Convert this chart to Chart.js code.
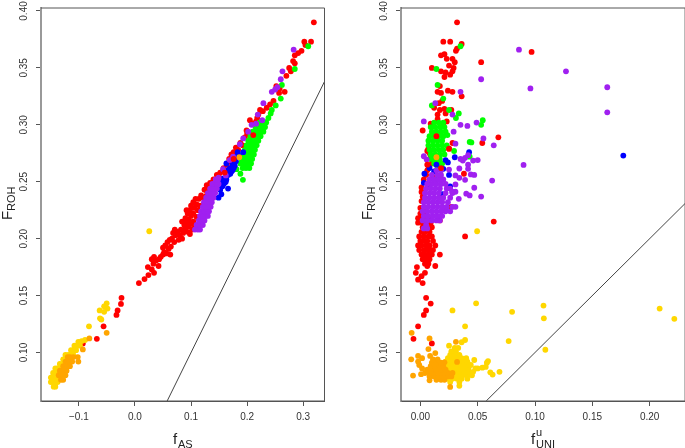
<!DOCTYPE html>
<html>
<head>
<meta charset="utf-8">
<style>
  html, body { margin: 0; padding: 0; background: #fff; overflow: hidden; }
  canvas { position: absolute; top: 0; }
  #left-plot { left: 0; }
  #right-plot { left: 342px; }
</style>
<script src="https://cdn.jsdelivr.net/npm/chart.js@4"></script>
</head>
<body>
<canvas id="left-plot" width="342" height="448"></canvas>
<canvas id="right-plot" width="346" height="448"></canvas>
<script>
// Tick labels
const frohTicks = [0.10, 0.15, 0.20, 0.25, 0.30, 0.35, 0.40];
const asTicks = [-0.1, 0.0, 0.1, 0.2, 0.3];
const uniTicks = [0.00, 0.05, 0.10, 0.15, 0.20];

// Axis ends and the y = x line
const frohRange = [0.0574, 0.4026];
const asRange = [-0.1676, 0.338];
const uniRange = [-0.0169, 0.2309];
const diagonalAS = [[0.0574, 0.0574], [0.338, 0.338]];
const diagonalUNI = [[0.0574, 0.0574], [0.2309, 0.2309]];

// Left panel, [fAS, FROH]
const redAS = [
  [.319,.390],[.314,.373],[.302,.373],[.304,.370],[.297,.365],[.291,.363],[.285,.361],[.282,.356],[.285,.354],[.275,.350],
  [.270,.343],[.278,.347],[.267,.329],[.257,.328],[.252,.334],[.258,.332],[.247,.321],[.241,.318],[.235,.315],[.228,.312],
  [.223,.313],[.220,.309],[.218,.306],[.216,.303],[.212,.301],[.205,.304],[.204,.292],[.200,.292],[.199,.295],[.196,.289],
  [.192,.282],[.188,.284],[.184,.278],[.180,.280],[.176,.276],[.172,.274],[.170,.268],[.168,.270],[.164,.265],[.158,.262],
  [.152,.258],[.150,.254],[.146,.256],[.144,.250],[.140,.252],[.134,.249],[.130,.243],[.128,.247],[.128,.242],[.124,.243],
  [.118,.238],[.114,.235],[.110,.230],[.108,.235],[.104,.232],[.106,.227],[.100,.229],[.098,.225],[.104,.222],[.092,.225],
  [.094,.222],[.100,.220],[.096,.217],[.090,.218],[.084,.215],[.104,.215],[.100,.213],[.096,.211],[.092,.214],[.088,.212],
  [.098,.204],[.094,.206],[.090,.209],[.086,.205],[.082,.208],[.078,.199],[.084,.200],[.080,.203],[.076,.206],[.072,.203],
  [.068,.205],[.071,.208],[.070,.197],[.066,.200],[.062,.199],[.058,.197],[.054,.194],[.050,.192],[.052,.188],[.056,.187],
  [.060,.191],[.064,.193],[.063,.186],[.050,.186],[.046,.184],[.043,.182],[.038,.181],[.034,.184],[.030,.182],[.033,.178],
  [.042,.176],[.034,.170],[.030,.173],[.024,.168],[.023,.175],[.017,.1645],[.007,.161],
  [.102,.208],[.107,.211],[.110,.219],[.112,.225],[.116,.229],[.122,.236],[.128,.238],[.134,.243],[.138,.246],
  [-.024,.148],[-.025,.1427],[-.031,.137],[-.033,.133],[-.056,.123],[-.068,.112],[-.093,.108]
];
const redFrontAS = [[.211,.291],[.176,.270],[.160,.258]];
const purpleAS = [
  [.283,.366],[.263,.347],[.260,.340],[.254,.333],[.250,.331],[.244,.329],[.229,.319],[.219,.309],[.227,.304],[.216,.301],
  [.208,.300],[.202,.294],[.193,.288],[.187,.283],[.175,.272],[.169,.269],[.157,.261],[.162,.2555],[.149,.2535],
  [.107,.208],[.116,.208],[.112,.208],[.110,.212],[.116,.212],[.121,.212],[.114,.216],[.119,.216],[.124,.216],
  [.116,.220],[.121,.220],[.126,.220],[.130,.220],[.118,.224],[.123,.224],[.128,.224],[.132,.224],
  [.121,.228],[.126,.228],[.131,.228],[.135,.228],[.123,.232],[.128,.232],[.133,.232],[.137,.232],
  [.127,.236],[.132,.236],[.136,.236],[.140,.236],[.130,.240],[.135,.240],[.139,.240],[.143,.240],
  [.134,.244],[.138,.244],[.142,.244],[.146,.244],[.138,.248],[.142,.248],[.146,.248],[.149,.248],[.144,.252],[.148,.252]
];
const blueAS = [
  [.149,.236],[.154,.239],[.166,.244],[.152,.243],[.156,.246],[.160,.249],[.154,.250],[.158,.253],[.163,.252],[.166,.256],
  [.170,.257],[.172,.259],[.168,.261],[.176,.262],[.178,.264],[.174,.265],[.163,.266],[.180,.268],[.185,.273],[.193,.276],[.183,.276],
  [.158,.248],[.162,.250],[.170,.262],[.174,.260],[.165,.260],[.180,.272]
];
const greenAS = [
  [.309,.369],[.285,.349],[.262,.335],[.260,.323],[.251,.317],[.244,.313],[.242,.310],[.238,.306],[.233,.3024],
  [.1925,.2517],[.188,.257],[.181,.261],
  [.192,.262],[.198,.262],[.204,.262],[.188,.266],[.193,.266],[.198,.266],[.203,.266],[.207,.266],
  [.190,.270],[.195,.270],[.200,.270],[.205,.270],[.209,.270],[.193,.274],[.198,.274],[.203,.274],[.208,.274],[.212,.274],
  [.196,.278],[.201,.278],[.206,.278],[.211,.278],[.214,.278],[.199,.282],[.204,.282],[.209,.282],[.214,.282],[.217,.282],
  [.202,.286],[.207,.286],[.212,.286],[.217,.286],[.220,.286],[.206,.290],[.211,.290],[.216,.290],[.221,.290],[.224,.290],
  [.210,.294],[.215,.294],[.220,.294],[.225,.294],[.229,.294],[.215,.298],[.220,.298],[.225,.298],[.230,.298],[.232,.298],
  [.222,.302],[.227,.302],[.232,.302],[.234,.302]
];
const goldAS = [
  [.0255,.2065],[-.0505,.1432],[-.055,.1406],[-.049,.1386],[-.063,.137],[-.055,.1357],[-.0624,.130],[-.06,.129],[-.082,.123],
  [-.089,.111],[-.095,.110],[-.101,.1094],[-.105,.106],[-.108,.106],[-.103,.106],[-.098,.106],
  [-.145,.070],[-.142,.070],[-.150,.074],[-.146,.074],[-.142,.074],[-.138,.074],
  [-.150,.078],[-.146,.078],[-.142,.078],[-.137,.078],[-.133,.078],[-.146,.082],[-.142,.082],[-.137,.082],[-.132,.082],[-.128,.082],
  [-.142,.086],[-.138,.086],[-.133,.086],[-.128,.086],[-.124,.086],[-.134,.090],[-.129,.090],[-.125,.090],[-.120,.090],
  [-.128,.094],[-.124,.094],[-.119,.094],[-.114,.094],[-.124,.098],[-.119,.098],[-.114,.098],[-.110,.098],
  [-.114,.102],[-.109,.102],[-.105,.102]
];
const orangeAS = [
  [-.0814,.1124],[-.0505,.1173],[-.093,.1027],[.186,.2715],
  [-.132,.076],[-.128,.076],[-.136,.080],[-.132,.080],[-.128,.080],[-.124,.080],
  [-.134,.084],[-.130,.084],[-.126,.084],[-.122,.084],[-.128,.088],[-.124,.088],[-.120,.088],[-.116,.088],
  [-.124,.092],[-.120,.092],[-.116,.092],[-.112,.092],[-.101,.092],[-.120,.096],[-.116,.096],[-.110,.096],[-.102,.096]
];

// Right panel, [fUNI, FROH]
const redUNI = [
  [.032,.390],[.020,.373],[.026,.373],[.036,.371],[.032,.367],[.031,.365],[.018,.361],[.021,.362],[.023,.358],[.028,.358],
  [.030,.355],[.025,.352],[.029,.350],[.010,.350],[.018,.347],[.022,.346],[.028,.347],[.021,.342],[.026,.344],[.017,.334],
  [.015,.329],[.018,.328],[.024,.330],[.028,.329],[.036,.325],[.019,.321],[.016,.319],[.012,.315],[.017,.313],[.021,.314],
  [.022,.310],[.027,.313],[.015,.309],[.015,.305],[.023,.303],[.020,.301],[.009,.301],[.002,.295],[.068,.289],[.054,.284],
  [.028,.284],[.025,.279],[.053,.355],[.097,.364],[.038,.257],[.064,.215],[.017,.216],[.027,.228],[.001,.245],[.000,.227],
  [-.002,.218],[.039,.202],[.017,.186],[.013,.176],[.013,.194],[.006,.176],[.006,.180],[-.003,.175],[-.004,.170],[-.002,.164],
  [.002,.161],[.004,.170],[.001,.167],[.005,.148],[.009,.143],[.005,.137],[.003,.133],[-.002,.123],[-.006,.112],[.010,.108],
  [.004,.178],[.007,.178],[.002,.182],[.005,.182],[.008,.182],[.001,.186],[.004,.186],[.007,.186],[.010,.186],
  [-.001,.190],[.003,.190],[.006,.190],[.009,.190],[.011,.190],[-.002,.194],[.001,.194],[.005,.194],[.008,.194],
  [.000,.198],[.003,.198],[.006,.198],[.011,.198],[-.001,.202],[.003,.202],[.007,.202],[.010,.202],[.001,.206],[.004,.206],[.008,.206],
  [.002,.210],[.006,.210],[.010,.210],[-.002,.214],[.002,.214],[.006,.214],[.009,.214],[.001,.218],[.005,.218],[.008,.218],
  [.000,.222],[.004,.222],[.003,.227],[.001,.233],[.002,.237],[.001,.241],[.003,.252],
  [.006,.277],[.008,.275],[.009,.272],[.007,.279],[.012,.268],[.007,.264],[.006,.260],[.005,.256],[.011,.254],[.018,.252],[.016,.262],[.010,.266]
];
const redFrontUNI = [[.014,.290],[.006,.265],[.018,.262],[.025,.279]];
const purpleUNI = [
  [.086,.366],[.053,.340],[.096,.332],[.127,.347],[.163,.333],[.163,.311],[.035,.329],[.013,.319],[.028,.309],[.003,.303],
  [.049,.302],[.035,.300],[.041,.299],[.029,.294],[.055,.288],[.064,.282],[.0306,.2834],[.003,.2724],[.0055,.2695],
  [.035,.270],[.037,.2686],[.039,.271],[.0416,.2733],[.046,.2686],[.050,.269],[.090,.2648],[.0416,.265],[.0416,.2613],
  [.034,.2616],[.025,.2607],[.0306,.2555],[.034,.2534],[.044,.2564],[.047,.256],[.039,.2517],[.0626,.251],[.0306,.2476],
  [.047,.2447],[.0306,.2412],[.0277,.2412],[.040,.2395],[.043,.238],[.053,.237],[.0335,.235],[.0306,.228],[.028,.228],
  [.022,.227],[.026,.224],[.022,.224],
  [.003,.209],[.006,.209],[.005,.212],[.002,.216],[.006,.216],[.010,.216],[.014,.216],[.017,.216],
  [.003,.220],[.007,.220],[.011,.220],[.015,.220],[.019,.220],[.002,.224],[.006,.224],[.010,.224],[.014,.224],[.018,.224],
  [.003,.228],[.007,.228],[.011,.228],[.015,.228],[.019,.228],[.023,.228],[.003,.232],[.007,.232],[.011,.232],[.015,.232],[.019,.232],[.024,.232],
  [.004,.236],[.008,.236],[.012,.236],[.016,.236],[.020,.236],[.026,.236],[.004,.240],[.008,.240],[.012,.240],[.016,.240],[.022,.240],[.028,.240],
  [.005,.244],[.009,.244],[.013,.244],[.017,.244],[.023,.244],[.026,.244],[.006,.248],[.010,.248],[.014,.248],[.018,.248],[.022,.248],
  [.008,.252],[.012,.252],[.016,.252],[.020,.252],[.010,.256],[.015,.256],[.018,.256],[.014,.260],[.018,.260]
];
const blueUNI = [
  [.177,.273],[.0425,.276],[.030,.2715],[.022,.269],[.024,.267],[.014,.265],[.020,.2613],[.008,.262],[.0035,.257],
  [.012,.259],[.025,.256],[.026,.246],[.003,.249],[.007,.248],[.019,.239]
];
const greenUNI = [
  [.035,.369],[.014,.349],[.015,.335],[.020,.323],[.010,.317],[.025,.313],[.0335,.310],[.031,.306],[.0544,.304],[.053,.300],
  [.0236,.291],[.043,.285],[.0445,.2845],[.0294,.277],[.043,.272],[.0146,.252],
  [.012,.302],[.016,.302],[.020,.302],[.009,.298],[.013,.298],[.017,.298],[.021,.298],[.010,.294],[.014,.294],[.018,.294],[.022,.294],
  [.008,.290],[.012,.290],[.016,.290],[.020,.290],[.007,.286],[.011,.286],[.015,.286],[.019,.286],
  [.007,.282],[.011,.282],[.015,.282],[.019,.282],[.023,.282],[.008,.278],[.012,.278],[.016,.278],[.020,.278],
  [.009,.274],[.013,.274],[.017,.274],[.021,.274],[.009,.270],[.013,.270],[.017,.270],[.012,.266],[.016,.266],[.019,.266],[.015,.262]
];
const goldUNI = [
  [.0495,.2065],[.0486,.1432],[.028,.137],[.080,.1357],[.1074,.1412],[.1077,.130],[.2087,.1386],[.2215,.1296],[.039,.123],
  [.077,.110],[.109,.1024],[.039,.111],[.025,.106],[.036,.109],[.069,.083],[.063,.0806],[.061,.0826],[.059,.0925],[.058,.091],
  [.057,.0873],[.054,.0867],[.047,.0934],[.034,.0707],
  [.026,.074],[.034,.074],[.020,.077],[.024,.077],[.028,.077],[.032,.077],[.036,.077],[.041,.077],
  [.017,.080],[.021,.080],[.025,.080],[.029,.080],[.033,.080],[.037,.080],[.041,.080],[.045,.080],
  [.018,.083],[.022,.083],[.026,.083],[.030,.083],[.034,.083],[.038,.083],[.042,.083],[.046,.083],
  [.018,.086],[.022,.086],[.026,.086],[.030,.086],[.034,.086],[.038,.086],[.042,.086],[.048,.086],
  [.020,.089],[.024,.089],[.028,.089],[.032,.089],[.036,.089],[.040,.089],[.044,.089],[.050,.086],
  [.022,.092],[.026,.092],[.030,.092],[.034,.092],[.038,.092],[.041,.092],
  [.024,.095],[.028,.095],[.032,.095],[.036,.095],[.040,.095],[.026,.098],[.030,.098],[.034,.098],
  [.027,.101],[.031,.101],[.030,.104],[.033,.104]
];
const orangeUNI = [
  [-.0076,.1173],[.008,.1124],[.031,.1094],[.007,.103],[.013,.0995],[.0085,.097],[-.002,.097],[.0015,.095],[-.008,.094],
  [-.002,.092],[-.001,.089],[.0015,.086],[-.0064,.0797],[.0006,.081],[.008,.0756],[.026,.0698],[.032,.0917],[.021,.0914],
  [.014,.076],[.018,.076],[.021,.076],[.008,.079],[.012,.079],[.016,.079],[.020,.079],[.024,.079],[.027,.079],
  [.004,.082],[.008,.082],[.012,.082],[.016,.082],[.020,.082],[.024,.082],[.028,.082],
  [.006,.085],[.010,.085],[.014,.085],[.018,.085],[.022,.085],[.009,.088],[.013,.088],[.017,.088],[.020,.088],
  [.010,.091],[.014,.091],[.018,.091],[.011,.094],[.015,.094],[.014,.2715]
];

const axisGrey = '#555555';
const textGrey = '#333333';

function dots(points, color) {
    return { type: 'scatter', data: points, backgroundColor: color, borderWidth: 0, pointRadius: 2.9, pointHoverRadius: 2.9 };
}

// Chart.js titles cannot do sub/superscripts, so the axis names go on by hand
const axisNames = {
    id: 'axisNames',
    afterDraw(chart, args, opts) {
        const { ctx, chartArea } = chart;
        ctx.save();
        ctx.fillStyle = '#222222';
        ctx.textBaseline = 'alphabetic';
        ctx.textAlign = 'left';

        // y name, rotated
        ctx.save();
        ctx.translate(chartArea.left - 29, 220);
        ctx.rotate(-Math.PI / 2);
        ctx.font = '15px "Liberation Sans"';
        ctx.fillText('F', 0, 0);
        ctx.font = '11px "Liberation Sans"';
        ctx.fillText('ROH', 9, 3);
        ctx.restore();

        // x name
        const cx = opts.nameX;
        ctx.font = '15px "Liberation Sans"';
        ctx.fillText('f', cx, 444);
        ctx.font = '11px "Liberation Sans"';
        if (opts.sup) ctx.fillText(opts.sup, cx + 5, 436);
        ctx.fillText(opts.sub, cx + 5, 448);
        ctx.restore();
    }
};

// R draws a box round the plot region; the left side is left to the y axis line
const plotBox = {
    id: 'plotBox',
    afterDatasetsDraw(chart) {
        const { ctx, chartArea: a } = chart;
        ctx.save();
        ctx.strokeStyle = axisGrey;
        ctx.lineWidth = 1;
        ctx.beginPath();
        ctx.moveTo(a.left, a.top);
        ctx.lineTo(a.right, a.top);
        ctx.lineTo(a.right, a.bottom);
        ctx.lineTo(a.left, a.bottom);
        ctx.stroke();
        ctx.restore();
    }
};

function makePanel(id, layers, diagonal, xRange, xTicks, xDigits, yWidth, padRight, nameOpts) {
    const ctx = document.getElementById(id).getContext('2d');
    return new Chart(ctx, {
        type: 'scatter',
        data: {
            datasets: [
                dots(layers[0], '#ff0000'),
                dots(layers[1], '#ffa500'),
                dots(layers[2], '#ffd700'),
                dots(layers[3], '#a020f0'),
                dots(layers[4], '#0000ff'),
                dots(layers[5], '#00ff00'),
                dots(layers[6], '#ff0000'),
                {
                    type: 'line', data: diagonal, borderColor: '#444444', borderWidth: 1,
                    pointRadius: 0, fill: false, parsing: { xAxisKey: '0', yAxisKey: '1' }
                }
            ]
        },
        options: {
            responsive: false,
            animation: false,
            events: [],
            parsing: { xAxisKey: '0', yAxisKey: '1' },
            layout: { padding: { top: 6, right: padRight, left: 0, bottom: 0 } },
            plugins: { legend: { display: false }, tooltip: { enabled: false }, axisNames: nameOpts },
            scales: {
                x: {
                    type: 'linear',
                    min: xRange[0],
                    max: xRange[1],
                    afterBuildTicks: s => { s.ticks = xTicks.map(v => ({ value: v })); },
                    afterFit: s => { s.height = 47; },
                    grid: { drawOnChartArea: false, color: axisGrey, tickLength: 5 },
                    border: { color: axisGrey, width: 1 },
                    ticks: {
                        autoSkip: false, maxRotation: 0, padding: 5, color: textGrey,
                        font: { family: 'Liberation Sans', size: 10 },
                        callback: v => (v < 0 ? '\u2212' : '') + Math.abs(v).toFixed(xDigits)
                    }
                },
                y: {
                    type: 'linear',
                    min: frohRange[0],
                    max: frohRange[1],
                    afterBuildTicks: s => { s.ticks = frohTicks.map(v => ({ value: v })); },
                    afterFit: s => { s.width = yWidth; },
                    grid: { drawOnChartArea: false, color: axisGrey, tickLength: 5 },
                    border: { color: '#999999', width: 2 },
                    ticks: {
                        autoSkip: false, minRotation: 90, maxRotation: 90, crossAlign: 'center', padding: 2, color: textGrey,
                        font: { family: 'Liberation Sans', size: 10 },
                        callback: v => v.toFixed(2)
                    }
                }
            }
        },
        plugins: [plotBox, axisNames]
    });
}

document.addEventListener('DOMContentLoaded', () => {
    makePanel('left-plot',
        [redFrontAS, orangeAS, goldAS, purpleAS, blueAS, greenAS, redAS],
        diagonalAS, asRange, asTicks, 1, 41, 17.5, { nameX: 173, sub: 'AS' });
    makePanel('right-plot',
        [redFrontUNI, orangeUNI, goldUNI, purpleUNI, blueUNI, greenUNI, redUNI],
        diagonalUNI, uniRange, uniTicks, 2, 59, 0, { nameX: 189, sup: 'u', sub: 'UNI' });
});
</script>
</body>
</html>
